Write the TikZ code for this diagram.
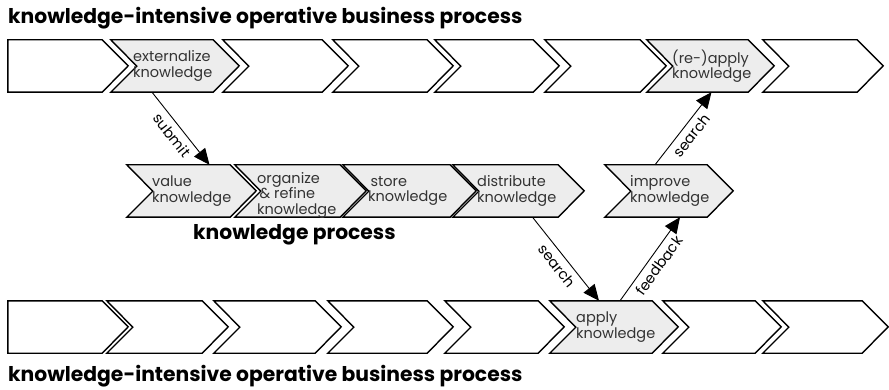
\documentclass[tikz,border=0pt]{standalone}
\usepackage{fontspec}
\setmainfont{Poppins}
\usetikzlibrary{fit,arrows.meta}
\definecolor{chevgray}{HTML}{EDEDED}
\definecolor{txtgray}{HTML}{333333}
\newcommand\chev[6]{%
  \node[fit={(#2,#4) (#3,#4+52)}, inner sep=0pt] (#1) {};
  \draw[chevline, fill=#6] (#1.north west) -- (#1.north east) -- ++(26,26) -- (#1.south east) -- (#1.south west) -- ++(#5,-26) -- cycle;
}
\begin{document}
\begin{tikzpicture}[x=1pt,y=-1pt,
  chevline/.style={draw=black, line width=1.4pt, line join=miter},
  txt/.style={inner sep=0pt, anchor=west, align=left, font=\fontsize{14.5}{15.5}\selectfont, text=txtgray},
  title/.style={inner sep=0pt, anchor=base west, font=\fontsize{20.3}{24}\selectfont\bfseries},
  conn/.style={line width=0.9pt, -{Triangle[length=16pt,width=14pt]}},
  lbl/.style={sloped, below, font=\fontsize{14.5}{15}\selectfont, inner sep=5pt}]
\useasboundingbox (0,0) rectangle (889,390);
% top row
\chev{t1}{8}{102}{40}{0}{white}
\chev{t2}{111}{213}{40}{26}{chevgray}
\chev{t3}{223}{322}{40}{26}{white}
\chev{t4}{333}{427}{40}{26}{white}
\chev{t5}{435}{533}{40}{26}{white}
\chev{t6}{545}{640}{40}{26}{white}
\chev{t7}{647}{748}{40}{26}{chevgray}
\chev{t8}{763}{857}{40}{26}{white}
\node[txt] (t2x) at (133,66) {externalize\\knowledge};
\node[txt] (t7x) at (672,66) {(re-)apply\\knowledge};
% middle row
\chev{m1}{127}{230}{165}{26}{chevgray}
\chev{m2}{235}{340}{165}{26}{chevgray}
\chev{m3}{343}{450}{165}{26}{chevgray}
\chev{m4}{453}{558}{165}{26}{chevgray}
\chev{m5}{605}{707}{165}{26}{chevgray}
\node[txt] (m1x) at (152,191) {value\\knowledge};
\node[txt] (m2x) at (257,195) {organize\\\,\& refine\\knowledge};
\node[txt] (m3x) at (368,191) {\,store\\knowledge};
\node[txt] (m4x) at (477,191) {distribute\\knowledge};
\node[txt] (m5x) at (630,191) {improve\\knowledge};
% bottom row
\chev{b1}{8}{102}{301}{0}{white}
\chev{b2}{107}{202}{301}{26}{white}
\chev{b3}{214}{315}{301}{26}{white}
\chev{b4}{328}{427}{301}{26}{white}
\chev{b5}{445}{538}{301}{26}{white}
\chev{b6}{550}{652}{301}{26}{chevgray}
\chev{b7}{663}{755}{301}{26}{white}
\chev{b8}{763}{862}{301}{26}{white}
\node[txt] (b6x) at (576,327) {apply\\knowledge};
% titles
\node[title] (ttop) at (8,24) {knowledge-intensive operative business process};
\node[title] (tmid) at (193,240) {knowledge process};
\node[title] (tbot) at (8,381) {knowledge-intensive operative business process};
% connectors
\draw[conn] ([xshift=-10pt]t2.south) -- node[lbl]{submit} ([xshift=31pt]m1.north);
\draw[conn] ([xshift=27pt]m4.south) -- node[lbl]{search} ([xshift=-2pt]b6.north);
\draw[conn] ([xshift=19pt]b6.north) -- node[lbl]{feedback} ([xshift=24pt]m5.south);
\draw[conn] ([xshift=-1pt]m5.north) -- node[lbl]{search} ([xshift=14pt]t7.south);
\end{tikzpicture}
\end{document}
